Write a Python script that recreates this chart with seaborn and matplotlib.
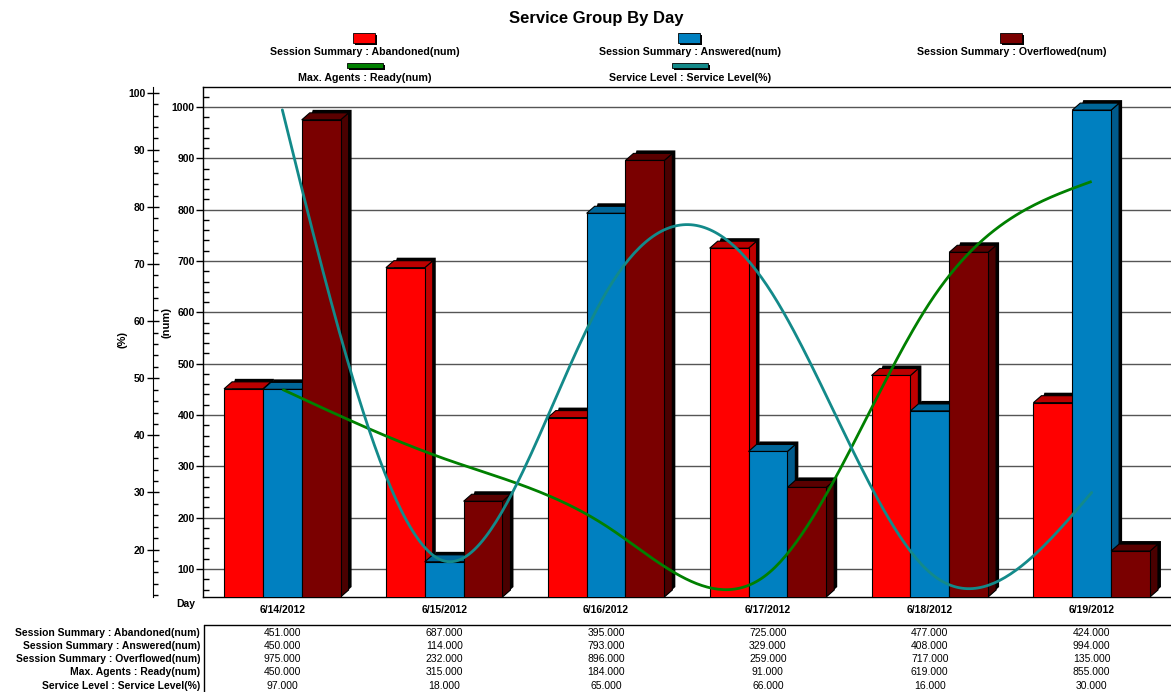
import numpy as np
import pandas as pd
import matplotlib
matplotlib.use("Agg")
import matplotlib.pyplot as plt
import matplotlib.transforms as mtransforms
from matplotlib.patches import Polygon, Rectangle
from matplotlib.lines import Line2D
from matplotlib.ticker import MultipleLocator
import seaborn as sns

# ---------------- data ----------------
days = ["6/14/2012", "6/15/2012", "6/16/2012", "6/17/2012", "6/18/2012", "6/19/2012"]
abandoned = [451, 687, 395, 725, 477, 424]
answered = [450, 114, 793, 329, 408, 994]
overflowed = [975, 232, 896, 259, 717, 135]
ready = [450, 315, 184, 91, 619, 855]
service_level = [97, 18, 65, 66, 16, 30]

bar_names = ["Session Summary : Abandoned(num)",
             "Session Summary : Answered(num)",
             "Session Summary : Overflowed(num)"]
line_names = ["Max. Agents : Ready(num)", "Service Level : Service Level(%)"]

bar_colors = ["#ff0000", "#0080c0", "#7a0000"]
top_colors = ["#bb0000", "#006699", "#5a0000"]
side_colors = ["#c00000", "#005a8c", "#4a0000"]
line_colors = ["#008000", "#138a8a"]

W, H = 1171, 692


def smooth(y, n=300):
    # natural cubic spline through evenly spaced points (for drawing only)
    y = np.asarray(y, float)
    k = len(y)
    A = np.zeros((k, k))
    r = np.zeros(k)
    A[0, 0] = A[-1, -1] = 1
    for i in range(1, k - 1):
        A[i, i - 1:i + 2] = [1, 4, 1]
        r[i] = 6 * (y[i + 1] - 2 * y[i] + y[i - 1])
    m = np.linalg.solve(A, r)
    xs = np.linspace(0, k - 1, n)
    i = np.minimum(xs.astype(int), k - 2)
    t = xs - i
    ys = ((1 - t) * y[i] + t * y[i + 1]
          + ((1 - t) ** 3 - (1 - t)) * m[i] / 6 + (t ** 3 - t) * m[i + 1] / 6)
    return xs, ys


def fx(px):
    return px / W


def fy(py):
    return 1 - py / H


sns.set_style("white")
plt.rcParams["font.family"] = ["Liberation Sans", "DejaVu Sans"]
plt.rcParams["text.color"] = "black"
plt.rcParams["xtick.color"] = "black"
plt.rcParams["ytick.color"] = "black"

fig = plt.figure(figsize=(W / 100, H / 100), dpi=100)
ax_left, ax_right, ax_top, ax_bottom = 203, 1171, 87, 597
ax = fig.add_axes([fx(ax_left), fy(ax_bottom), fx(ax_right - ax_left), (ax_bottom - ax_top) / H])

df = pd.DataFrame({"day": days,
                   bar_names[0]: abandoned,
                   bar_names[1]: answered,
                   bar_names[2]: overflowed})
df = df.melt(id_vars="day", var_name="series", value_name="value")

sns.barplot(data=df, x="day", y="value", hue="series", hue_order=bar_names,
            palette=bar_colors, width=0.72, saturation=1, edgecolor="black",
            linewidth=0.8, legend=False, ax=ax)

xlim = (-0.49, 5.49)
ylim = (45.5, 1039)
ax.set_xlim(*xlim)
ax.set_ylim(*ylim)

# 3D look: top and side faces, offset in pixels
dxp, dyp, shp = 8, 7, 3
ax_w, ax_h = ax_right - ax_left, ax_bottom - ax_top
dx = dxp / ax_w * (xlim[1] - xlim[0])
dy = dyp / ax_h * (ylim[1] - ylim[0])
sx = (dxp + shp) / ax_w * (xlim[1] - xlim[0])
sy = (dyp + shp) / ax_h * (ylim[1] - ylim[0])
y0 = ylim[0]
for k, cont in enumerate(ax.containers):
    for p in cont.patches:
        x0, w, h = p.get_x(), p.get_width(), p.get_height()
        z = 3 + x0
        p.set_zorder(z + 0.003)
        shadow = Polygon([(x0 + dx, h), (x0 + sx, h + sy), (x0 + w + sx, h + sy),
                          (x0 + w + sx, y0 + sy), (x0 + w, y0)],
                         closed=True, facecolor="black", edgecolor="none", zorder=z)
        top = Polygon([(x0, h), (x0 + w, h), (x0 + w + dx, h + dy), (x0 + dx, h + dy)],
                      closed=True, facecolor=top_colors[k], edgecolor="black",
                      linewidth=0.8, zorder=z + 0.002)
        side = Polygon([(x0 + w, y0), (x0 + w + dx, y0 + dy), (x0 + w + dx, h + dy), (x0 + w, h)],
                       closed=True, facecolor=side_colors[k], edgecolor="black",
                       linewidth=0.8, zorder=z + 0.001)
        ax.add_patch(shadow)
        ax.add_patch(top)
        ax.add_patch(side)

# Ready line on the (num) axis
xs, ys = smooth(ready)
ax.plot(xs, ys, color=line_colors[0], lw=2.0, zorder=50, solid_capstyle="butt")

ax.yaxis.set_major_locator(MultipleLocator(100))
ax.yaxis.set_minor_locator(MultipleLocator(20))
ax.grid(axis="y", which="major", color="#555555", linewidth=1.0)
ax.set_axisbelow(True)
ax.tick_params(axis="y", which="major", direction="out", length=5, width=1,
               labelsize=7.5, pad=1)
ax.tick_params(axis="y", which="minor", direction="in", length=4, width=1)
ax.tick_params(axis="x", which="major", direction="inout", length=10, width=1,
               color="#555555", labelsize=7.5, pad=1)
for lab in ax.get_yticklabels() + ax.get_xticklabels():
    lab.set_fontweight("bold")
ax.set_xlabel("")
ax.set_ylabel("")
for s in ["left", "top", "bottom"]:
    ax.spines[s].set_color("black")
    ax.spines[s].set_linewidth(1)
ax.spines["right"].set_visible(False)

# Service level on outer (%) axis
ax2 = ax.twinx()
ax2.set_ylim(11.7, 101)
xs, ys = smooth(service_level)
ax2.plot(xs, ys, color=line_colors[1], lw=2.0, zorder=50)
ax2.yaxis.tick_left()
ax2.spines["left"].set_position(("outward", 36))
ax2.spines["left"].set_visible(True)
ax2.spines["left"].set_color("black")
for s in ["right", "top", "bottom"]:
    ax2.spines[s].set_visible(False)
ax2.yaxis.set_major_locator(MultipleLocator(10))
ax2.yaxis.set_minor_locator(MultipleLocator(2))
ax2.tick_params(axis="y", which="major", direction="inout", length=9, width=1,
                labelsize=7.5, pad=1)
ax2.tick_params(axis="y", which="minor", direction="in", length=3.6, width=1)
ax2.set_yticks([t for t in range(20, 101, 10)])
for lab in ax2.get_yticklabels():
    lab.set_fontweight("bold")

# axis titles
fig.text(fx(122), fy(340), "(%)", rotation=90, ha="center", va="center",
         fontsize=8, fontweight="bold")
fig.text(fx(167), fy(322), "(num)", rotation=90, ha="center", va="center",
         fontsize=8, fontweight="bold")
fig.text(fx(186), fy(604), "Day", ha="center", va="center", fontsize=7.5, fontweight="bold")

# title
fig.text(fx(596), fy(19), "Service Group By Day", ha="center", va="center",
         fontsize=12, fontweight="bold")

# legend
leg_x = [365, 690, 1012]
for i, name in enumerate(bar_names):
    cx = leg_x[i]
    fig.add_artist(Rectangle((fx(cx - 10), fy(45)), fx(22), 10 / H, transform=fig.transFigure,
                             facecolor="black", edgecolor="none"))
    fig.add_artist(Rectangle((fx(cx - 12), fy(43)), fx(22), 10 / H, transform=fig.transFigure,
                             facecolor=bar_colors[i], edgecolor="black", linewidth=0.6))
    fig.text(fx(cx), fy(52), name, ha="center", va="center", fontsize=7.7, fontweight="bold")
for i, name in enumerate(line_names):
    cx = leg_x[i]
    fig.add_artist(Rectangle((fx(cx - 16), fy(70)), fx(36), 5 / H, transform=fig.transFigure,
                             facecolor="black", edgecolor="none"))
    fig.add_artist(Rectangle((fx(cx - 18), fy(68)), fx(36), 5 / H, transform=fig.transFigure,
                             facecolor=line_colors[i], edgecolor="black", linewidth=0.6))
    fig.text(fx(cx), fy(78), name, ha="center", va="center", fontsize=7.7, fontweight="bold")

# data table
row_names = bar_names + line_names
row_values = [abandoned, answered, overflowed, ready, service_level]
row_y = [633, 646, 659, 672, 686]
trans = mtransforms.blended_transform_factory(ax.transData, fig.transFigure)
for name, vals, ry in zip(row_names, row_values, row_y):
    fig.text(fx(200), fy(ry), name, ha="right", va="center", fontsize=7.5, fontweight="bold")
    for j, v in enumerate(vals):
        ax.text(j, fy(ry), f"{v:.3f}", transform=trans, ha="center", va="center",
                fontsize=7.5, clip_on=False)
fig.add_artist(Line2D([fx(204), 1], [fy(625), fy(625)], color="black", lw=1))
fig.add_artist(Line2D([fx(204), fx(204)], [fy(625), 0], color="black", lw=1))

fig.savefig("out.png", dpi=100)
